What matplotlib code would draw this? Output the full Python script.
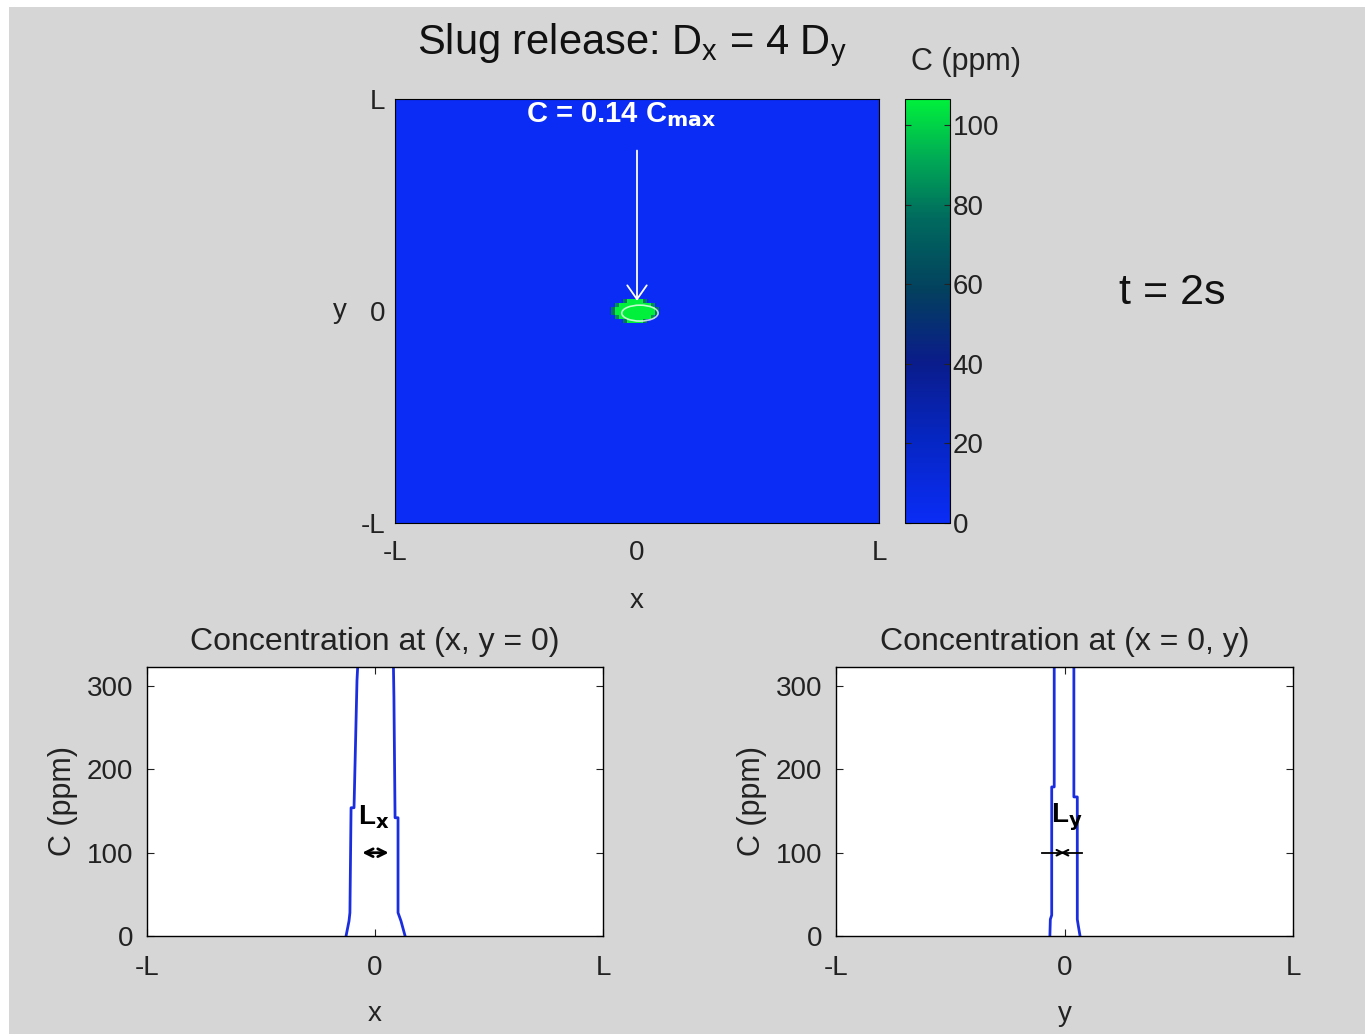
import matplotlib
matplotlib.use('Agg')

import numpy as np
import matplotlib.pyplot as plt
from matplotlib.colors import LinearSegmentedColormap
from matplotlib.patches import Rectangle, Ellipse

plt.rcParams['font.family'] = ['Liberation Sans', 'DejaVu Sans']
plt.rcParams['mathtext.default'] = 'regular'

# data
ticks = [-1, 0, 1]
tick_labels = ['-L', '0', 'L']
c_ticks = [0, 20, 40, 60, 80, 100]
c_max_bar = 106.5
y_ticks = [0, 100, 200, 300]

# concentration along x (y = 0), in units of L and ppm
prof_x = [-0.127, -0.114, -0.110, -0.105, -0.092, -0.079, -0.070, 0.0, 0.079, 0.083, 0.088, 0.101, 0.101, 0.114, 0.132]
prof_cx = [0, 18, 28, 154, 154, 307, 355, 760, 355, 287, 142, 142, 28, 18, 0]
# concentration along y (x = 0)
prof_y = [-0.064, -0.062, -0.056, -0.056, -0.045, -0.045, 0.0, 0.041, 0.041, 0.056, 0.056, 0.060, 0.068]
prof_cy = [0, 20, 25, 179, 179, 360, 760, 360, 167, 167, 20, 13, 0]

# 2-D field: zero everywhere except the plume patch at the centre
nx, ny = 121, 106
blob = [
    [0, 0, 0, 80, 110, 130, 130, 110, 80, 0, 0, 0],
    [0, 85, 120, 200, 300, 350, 350, 300, 200, 120, 85, 0],
    [80, 150, 300, 500, 700, 760, 760, 700, 500, 300, 150, 80],
    [80, 150, 300, 500, 700, 760, 760, 700, 500, 300, 150, 80],
    [0, 85, 120, 200, 300, 350, 350, 300, 200, 120, 85, 0],
    [0, 0, 0, 80, 110, 130, 130, 110, 80, 0, 0, 0],
]
field = np.zeros((ny, nx))
field[50:56, 54:66] = blob

W, H = 1365, 1034
fig = plt.figure(figsize=(W / 100, H / 100), dpi=100, facecolor='white')
fig.patches.append(Rectangle((9 / W, 0), 1, 1 - 7 / H, transform=fig.transFigure,
                             facecolor='#d6d6d6', edgecolor='none', zorder=-10))

def px_axes(x0, y0, x1, y1):
    return fig.add_axes([x0 / W, 1 - y1 / H, (x1 - x0) / W, (y1 - y0) / H])

cmap = LinearSegmentedColormap.from_list('bg', [
    (0.0, '#0a2cf5'), (0.2, '#0626c2'), (0.38, '#0a1c8a'), (0.55, '#03405e'),
    (0.72, '#006a5e'), (0.86, '#00aa55'), (1.0, '#00f03c')])

# top map
ax = px_axes(395, 99, 879, 523)
im = ax.imshow(field, origin='lower', extent=[-1, 1, -1, 1], cmap=cmap,
               vmin=0, vmax=c_max_bar, aspect='auto', interpolation='nearest')
ax.add_patch(Ellipse((0.012, -0.01), 0.15, 0.075, facecolor='none',
                     edgecolor='white', lw=1.2, alpha=0.75))
ax.annotate('', xy=(0, 0.035), xytext=(0, 0.77),
            arrowprops=dict(arrowstyle='->,head_length=0.5,head_width=0.35',
                            color='white', lw=1.3, mutation_scale=20))
ax.text(-0.066, 0.925, r'C = 0.14 C$_{\mathbf{max}}$', color='white', fontsize=21,
        fontweight='bold', ha='center', va='center')
ax.set_xticks(ticks)
ax.set_xticklabels(tick_labels)
ax.set_yticks(ticks)
ax.set_yticklabels(tick_labels)
ax.tick_params(length=0, labelsize=20, colors='#222222')
ax.tick_params(axis='x', pad=12)
ax.tick_params(axis='y', pad=7)
for s in ax.spines.values():
    s.set_linewidth(0.8)
fig.text(637 / W, 1 - 601 / H, 'x', fontsize=20, ha='center', va='center', color='#222222')
fig.text(340 / W, 1 - 311 / H, 'y', fontsize=20, ha='center', va='center', color='#222222')

# colorbar
cax = px_axes(905, 99, 950, 523)
cb = fig.colorbar(im, cax=cax, ticks=c_ticks)
cb.ax.tick_params(direction='in', length=4, labelsize=20, pad=2, colors='#222222',
                  left=True, right=True)
cb.outline.set_linewidth(0.8)
fig.text(966 / W, 1 - 62 / H, 'C (ppm)', fontsize=22, ha='center', va='center', color='#222222')

fig.text(632 / W, 1 - 45 / H, 'Slug release: D$_x$ = 4 D$_y$', fontsize=30,
         ha='center', va='center', color='#111111')
fig.text(1172 / W, 1 - 293 / H, 't = 2s', fontsize=31, ha='center', va='center', color='#111111')

# bottom profiles
def profile_axes(x0, x1, xs, cs, title, xlabel):
    a = px_axes(x0, 667, x1, 936)
    a.set_facecolor('white')
    a.plot(xs, cs, color='#1a2ee0', lw=2.0)
    a.set_xlim(-1, 1)
    a.set_ylim(0, 323)
    a.set_xticks(ticks)
    a.set_xticklabels(tick_labels)
    a.set_yticks(y_ticks)
    a.tick_params(direction='in', length=5, labelsize=20, colors='#222222',
                  top=True, right=True)
    a.tick_params(axis='x', pad=14)
    a.tick_params(axis='y', pad=10)
    for s in a.spines.values():
        s.set_linewidth(1.0)
    a.set_title(title, fontsize=23, pad=12, color='#222222')
    a.set_xlabel(xlabel, fontsize=20, labelpad=14, color='#222222')
    a.set_ylabel('C (ppm)', fontsize=22, labelpad=6, color='#222222')
    return a

ax1 = profile_axes(147, 603, prof_x, prof_cx, 'Concentration at (x, y = 0)', 'x')
ax1.annotate('', xy=(-0.068, 100), xytext=(0.072, 100),
             arrowprops=dict(arrowstyle='<->', color='black', lw=2, mutation_scale=14))
ax1.text(-0.075, 142, r'L$_{\mathbf{x}}$', fontsize=20, fontweight='bold',
         ha='left', va='center')

ax2 = profile_axes(836, 1293, prof_y, prof_cy, 'Concentration at (x = 0, y)', 'y')
ax2.plot([-0.098, 0.077], [100, 100], color='black', lw=1.3)
ax2.annotate('', xy=(-0.03, 100), xytext=(0.012, 100),
             arrowprops=dict(arrowstyle='<->', color='black', lw=1.5, mutation_scale=10))
ax2.text(-0.06, 142, r'L$_{\mathbf{y}}$', fontsize=20, fontweight='bold',
         ha='left', va='center')

fig.savefig('out.png', dpi=100, facecolor=fig.get_facecolor())
